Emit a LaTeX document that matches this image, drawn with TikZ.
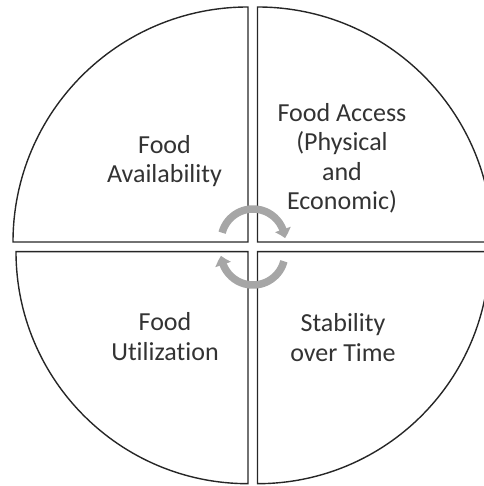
\documentclass[tikz,border=0pt]{standalone}
\usepackage{fontspec}
\setmainfont{Carlito}[RawFeature=-liga]
\usetikzlibrary{arrows.meta,bending}

\tikzset{
    quadrant/.style={draw=black!85, line width=1.4pt, line join=miter},
    pillar text/.style={align=center, text=black!80, font=\fontsize{26}{29.5}\selectfont},
    cycle arrow/.style={draw=black!35, line width=7.5pt, -{Triangle[length=9pt, width=16pt, bend]}}
}

\begin{document}
\begin{tikzpicture}[x=1pt, y=1pt]
    \useasboundingbox (0,0) rectangle (483,486);
    % Quadrants
    \draw[quadrant] (248,244) -- (248,479) arc[start angle=90, end angle=180, radius=235] -- cycle;
    \draw[quadrant] (257.5,244) -- (257.5,479) arc[start angle=90, end angle=0, radius=235] -- cycle;
    \draw[quadrant] (248,234.3) -- (248,2.3) arc[start angle=270, end angle=180, radius=232] -- cycle;
    \draw[quadrant] (257.5,234.3) -- (257.5,2.3) arc[start angle=270, end angle=360, radius=232] -- cycle;
    % Cycle arrows
    \coordinate (upper) at (253,245);
    \coordinate (lower) at (253,233);
    \draw[cycle arrow] (upper) ++(165:32) arc[start angle=165, end angle=5, radius=32];
    \draw[cycle arrow] (lower) ++(-15:32) arc[start angle=-15, end angle=-175, radius=32];
    % Pillars
    \node[pillar text] (avail) at (164.5,325) {Food\\Availability};
    \node[pillar text] (access) at (342,327.5) {Food Access\\(Physical\\and\\Economic)};
    \node[pillar text] (util) at (165,149.5) {Food\\Utilization};
    \node[pillar text] (stab) at (343,148.5) {Stability\\over Time};
\end{tikzpicture}
\end{document}
